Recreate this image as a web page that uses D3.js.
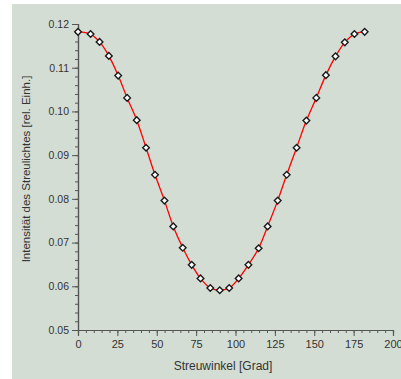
<!DOCTYPE html>
<html><head><meta charset="utf-8">
<script src="https://cdn.jsdelivr.net/npm/d3@7/dist/d3.min.js"></script>
<style>html,body{margin:0;padding:0;background:#fff;}svg{display:block;}</style>
</head><body>
<svg id="c" width="401" height="379"></svg>
<script>
const angles = [0, 8, 13.7, 19.6, 25.5, 31.2, 37.3, 43.2, 48.9, 54.9, 60.5, 66.5, 72.2, 77.8, 84, 90,
  96, 102, 108.2, 114.7, 120.4, 126.8, 132.5, 138.8, 145, 151.3, 157.4, 163.5, 169.4, 175.5, 182];
const intensity = [0.1182, 0.1177, 0.1159, 0.1127, 0.1082, 0.1031, 0.0980, 0.0917, 0.0855, 0.0796, 0.0737, 0.0688, 0.0649, 0.0618, 0.0596, 0.0591,
  0.0596, 0.0618, 0.0649, 0.0687, 0.0737, 0.0796, 0.0855, 0.0917, 0.0979, 0.1031, 0.1083, 0.1126, 0.1158, 0.1177, 0.1182];
const xTicks = [0, 25, 50, 75, 100, 125, 150, 175, 200];
const yTicks = [0.05, 0.06, 0.07, 0.08, 0.09, 0.10, 0.11, 0.12];
const xTitle = "Streuwinkel [Grad]";
const yTitle = "Intensität des Streulichtes [rel. Einh.]";

const svg = d3.select("#c");
const font = "'Liberation Sans', Arial, sans-serif";
svg.append("rect").attr("x", 12).attr("y", 4).attr("width", 389).attr("height", 375).attr("fill", "#d4ddd4");

const x = d3.scaleLinear().domain([0, 200]).range([78, 393]);
const y = d3.scaleLinear().domain([0.05, 0.12]).range([330, 24]);
const axisColor = "#555";

// X axis
const gx = svg.append("g").attr("transform", "translate(0,330)");
gx.call(d3.axisBottom(x).tickValues(d3.range(0, 201, 5)).tickSize(3).tickFormat(""));
const gx2 = svg.append("g").attr("transform", "translate(0,330)");
gx2.call(d3.axisBottom(x).tickValues(xTicks).tickSize(6).tickPadding(4).tickFormat(d3.format("d")));
[gx, gx2].forEach(g => { g.select(".domain").attr("stroke", axisColor).attr("stroke-width", 1.2); g.selectAll(".tick line").attr("stroke", axisColor); });
gx2.selectAll("text").attr("font-family", font).attr("font-size", 11).attr("fill", "#333");

// Y axis
const gy = svg.append("g").attr("transform", "translate(78,0)");
gy.call(d3.axisLeft(y).tickValues(d3.range(0, 36).map(i => 0.05 + i * 0.002)).tickSize(3).tickFormat(""));
const gy2 = svg.append("g").attr("transform", "translate(78,0)");
gy2.call(d3.axisLeft(y).tickValues(yTicks).tickSize(6).tickPadding(3).tickFormat(d3.format(".2f")));
[gy, gy2].forEach(g => { g.select(".domain").attr("stroke", axisColor).attr("stroke-width", 1.2); g.selectAll(".tick line").attr("stroke", axisColor); });
gy2.selectAll("text").attr("font-family", font).attr("font-size", 10.5).attr("fill", "#333");

// Titles
svg.append("text").attr("x", 223).attr("y", 370).attr("text-anchor", "middle")
  .attr("font-family", font).attr("font-size", 12).attr("fill", "#333").text(xTitle);
svg.append("text").attr("transform", "translate(30,169) rotate(-90)").attr("text-anchor", "middle")
  .attr("font-family", font).attr("font-size", 11.5).attr("fill", "#333").text(yTitle);

// Line
const data = angles.map((a, i) => ({ a, v: intensity[i] }));
svg.append("path").datum(data)
  .attr("d", d3.line().x(d => x(d.a)).y(d => y(d.v)).curve(d3.curveCatmullRom))
  .attr("fill", "none").attr("stroke", "#ff0000").attr("stroke-width", 1.3);

// Markers
svg.append("g").selectAll("path").data(data).join("path")
  .attr("transform", d => `translate(${x(d.a)},${y(d.v)})`)
  .attr("d", d3.symbol(d3.symbolDiamond2, 28)())
  .attr("fill", "#fff").attr("stroke", "#1a1a1a").attr("stroke-width", 1.4);
</script>
</body></html>
